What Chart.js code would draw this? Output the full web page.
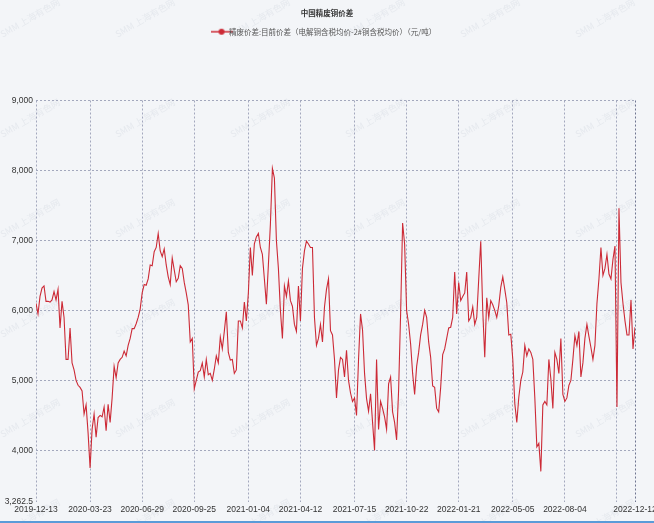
<!DOCTYPE html>
<html lang="zh">
<head>
<meta charset="utf-8">
<title>中国精废铜价差</title>
<script src="https://cdn.jsdelivr.net/npm/chart.js@4.4.1/dist/chart.umd.min.js"></script>
<style>
  html, body { margin: 0; padding: 0; background: #f3f5f8; }
  #wrap { width: 654px; height: 521px; border-bottom: 2px solid #5a9bd8; }
</style>
</head>
<body>
<div id="wrap"><canvas id="chart" width="654" height="521"></canvas></div>
<script>
const chartTitle = '中国精废铜价差';
const seriesName = '精废价差:目前价差（电解铜含税均价-2#铜含税均价）（元/吨）';

// date labels shown on the x axis and the data index they sit on
const tickDates = ['2019-12-13', '2020-03-23', '2020-06-29', '2020-09-25', '2021-01-04', '2021-04-12',
  '2021-07-15', '2021-10-22', '2022-01-21', '2022-05-05', '2022-08-04', '', '2022-12-12'];
const tickIndex = [0, 27, 53, 79, 106, 132, 159, 185, 211, 238, 264, 290, 299];

const yTicks = [3262.5, 4000, 5000, 6000, 7000, 8000, 9000];

// price spread, 元/吨
const spread = [
  6100, 5950, 6200, 6320, 6350, 6130, 6130, 6120, 6150, 6270,
  6150, 6300, 5750, 6130, 5900, 5300, 5300, 5750, 5250, 5150,
  5000, 4930, 4900, 4850, 4520, 4650, 4250, 3750, 4300, 4520,
  4190, 4470, 4500, 4480, 4620, 4280, 4660, 4400, 4750, 5200,
  5040, 5250, 5300, 5330, 5420, 5350, 5500, 5600, 5740, 5740,
  5810, 5900, 6020, 6250, 6370, 6360, 6450, 6650, 6640, 6840,
  6900, 7100, 6850, 6770, 6880, 6650, 6480, 6370, 6750, 6580,
  6410, 6460, 6640, 6600, 6400, 6250, 6080, 5550, 5600, 4880,
  5000, 5120, 5140, 5250, 5050, 5300, 5080, 5100, 5000, 5160,
  5350, 5250, 5620, 5450, 5700, 5980, 5400, 5290, 5300, 5100,
  5150, 5850, 5850, 5750, 6120, 5850, 6250, 6900, 6500, 6950,
  7050, 7100, 6900, 6800, 6450, 6090, 6650, 7230, 8030, 7890,
  7000, 6600, 6000, 5600, 6350, 6200, 6420, 6140, 6060, 5800,
  5700, 6350, 5850, 6600, 6850, 6990, 6950, 6900, 6900, 5900,
  5500, 5600, 5800, 5550, 6050, 6300, 6450, 5710, 5650, 5300,
  4750, 5150, 5330, 5300, 5050, 5430, 5000, 4820, 4700, 4750,
  4500, 5300, 5950, 5720, 5100, 4740, 4560, 4810, 4400, 4000,
  5300, 4300, 4700, 4600, 4480, 4300, 4950, 5050, 4550, 4400,
  4150, 4860, 5950, 7250, 6950, 6000, 5800, 5520, 5100, 4800,
  5200, 5400, 5650, 5800, 6000, 5900, 5550, 5330, 4920, 4900,
  4600, 4550, 4900, 5370, 5450, 5600, 5750, 5760, 5900, 6550,
  5950, 6400, 6140, 6200, 6250, 6550, 5850, 5900, 6050, 5800,
  5900, 6450, 6990, 6000, 5330, 6180, 5900, 6140, 6080, 6000,
  5900, 6070, 6330, 6480, 6300, 6110, 5650, 5660, 5300, 4670,
  4400, 4760, 5000, 5120, 5500, 5350, 5450, 5400, 5300, 4750,
  4050, 4100, 3700, 4650, 4700, 4650, 5300, 5020, 4600, 5400,
  5300, 5100, 5600, 4800, 4700, 4750, 4930, 5000, 5300, 5640,
  5500, 5700, 5050, 5250, 5600, 5800, 5630, 5470, 5300, 5500,
  6100, 6450, 6900, 6500, 6600, 6800, 6520, 6450, 6730, 6920,
  4620, 7460, 6400, 6100, 5850, 5650, 5650, 6150, 5450, 5760
];

const lineColor = '#cc2a36';
const gridColor = '#a3a8bd';
const labelFont = { family: 'Liberation Sans, Arial, sans-serif', size: 8.5 };
const cjkFont = 'Noto Sans CJK SC';

// little "-●-" marker for the legend
const marker = document.createElement('canvas');
marker.width = 22;
marker.height = 8;
const mctx = marker.getContext('2d');
mctx.strokeStyle = lineColor;
mctx.lineWidth = 1.5;
mctx.beginPath();
mctx.moveTo(0, 4);
mctx.lineTo(22, 4);
mctx.stroke();
mctx.fillStyle = lineColor;
mctx.beginPath();
mctx.arc(11, 4, 3, 0, Math.PI * 2);
mctx.fill();

// faint site watermark behind the plot
const watermark = {
  id: 'watermark',
  beforeDraw(chart) {
    const ctx = chart.ctx;
    ctx.save();
    ctx.font = '9px ' + cjkFont;
    ctx.fillStyle = 'rgba(195, 200, 212, 0.28)';
    ctx.textAlign = 'center';
    for (let row = 0; row < 6; row++) {
      for (let col = 0; col < 6; col++) {
        ctx.save();
        ctx.translate(30 + col * 115, 18 + row * 100);
        ctx.rotate(-Math.PI / 6);
        ctx.fillText('SMM 上海有色网', 0, 0);
        ctx.restore();
      }
    }
    ctx.restore();
  }
};

// push the plot down below the legend
const legendGap = {
  id: 'legendGap',
  beforeInit(chart) {
    const fit = chart.legend.fit;
    chart.legend.fit = function () {
      fit.bind(chart.legend)();
      this.height += 55;
    };
  }
};

new Chart(document.getElementById('chart'), {
  type: 'line',
  data: {
    datasets: [{
      label: seriesName,
      data: spread.map((v, i) => ({ x: i, y: v })),
      borderColor: lineColor,
      backgroundColor: lineColor,
      borderWidth: 1.1,
      pointRadius: 0,
      pointStyle: marker,
      tension: 0
    }]
  },
  options: {
    responsive: false,
    animation: false,
    layout: { padding: 0 },
    plugins: {
      title: {
        display: true,
        text: chartTitle,
        color: '#333',
        font: { family: cjkFont, size: 7.5, weight: 'bold' },
        padding: { top: 9, bottom: 4 }
      },
      legend: {
        display: true,
        labels: {
          usePointStyle: true,
          color: '#555',
          font: { family: cjkFont, size: 7.5 },
          padding: 6
        }
      },
      tooltip: { enabled: false }
    },
    scales: {
      x: {
        type: 'linear',
        min: 0,
        max: spread.length - 1,
        afterBuildTicks(scale) {
          scale.ticks = tickIndex.map(v => ({ value: v }));
        },
        afterFit(scale) {
          scale.height = 19;
          scale.paddingLeft = 0;
          scale.paddingRight = 19;
        },
        ticks: {
          autoSkip: false,
          maxRotation: 0,
          padding: 3,
          color: '#333',
          font: labelFont,
          callback: (v, i) => tickDates[i]
        },
        grid: {
          drawTicks: false,
          color: ctx => ctx.index === tickIndex.length - 1 ? '#6f7590' : gridColor
        },
        border: { display: false, dash: [2, 2] }
      },
      y: {
        min: yTicks[0],
        max: yTicks[yTicks.length - 1],
        afterBuildTicks(scale) {
          scale.ticks = yTicks.map(v => ({ value: v }));
        },
        afterFit(scale) {
          scale.width = 36;
        },
        ticks: {
          padding: 3,
          color: '#333',
          font: labelFont,
          callback: v => v.toLocaleString('en-US')
        },
        grid: {
          drawTicks: false,
          color: ctx => ctx.index === 0 ? 'rgba(0,0,0,0)' : gridColor
        },
        border: { display: false, dash: [2, 2] }
      }
    }
  },
  plugins: [watermark, legendGap]
});
</script>
</body>
</html>
